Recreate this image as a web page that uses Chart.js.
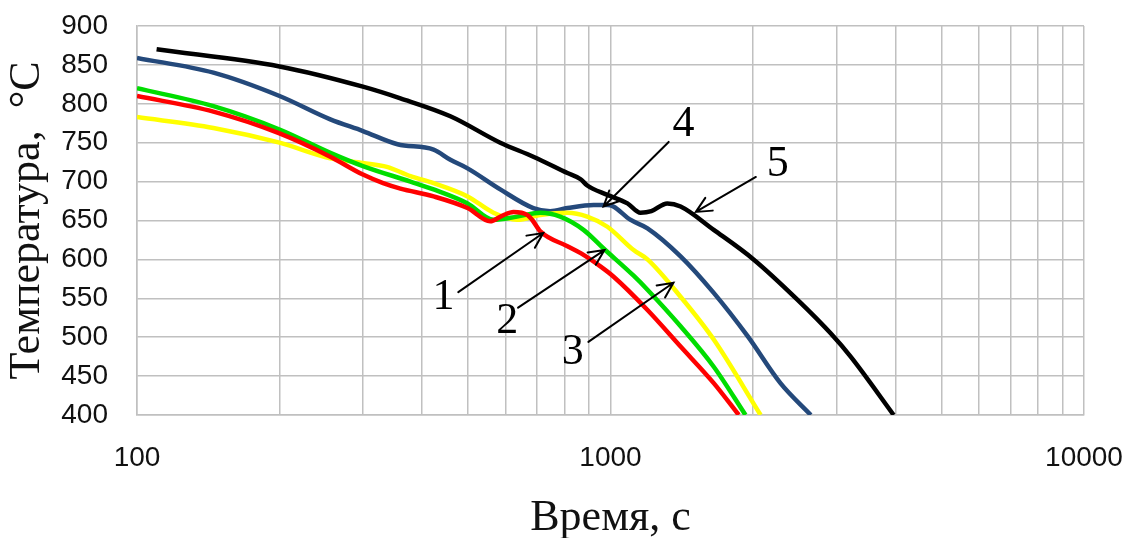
<!DOCTYPE html>
<html>
<head>
<meta charset="utf-8">
<script src="https://cdn.jsdelivr.net/npm/chart.js@4/dist/chart.umd.min.js"></script>
<style>
  html, body { margin: 0; padding: 0; background: #fff; }
</style>
</head>
<body>
<canvas id="chart_T" width="1128" height="538"></canvas>
<script>
/* ------------------
    Cooling curves (time, s / temperature, C)
-------------------*/
// 1 - red
var time1 = [100, 145, 200, 256, 300, 331, 360, 423, 499, 557, 590, 624, 668, 683, 711, 811, 865, 952, 1014, 1197, 1406, 1652, 1866];
var temp1 = [810, 790, 762, 732, 709, 698, 691, 681, 666, 649, 656, 661, 657, 651, 636, 617, 608, 591, 578, 535, 488, 441, 400];
// 2 - green
var time2 = [100, 145, 200, 256, 300, 378, 423, 499, 566, 635, 711, 783, 877, 967, 1119, 1197, 1406, 1652, 1928];
var temp2 = [820, 797, 767, 737, 720, 700, 690, 672, 651, 655, 660, 655, 638, 614, 579, 561, 514, 462, 400];
// 3 - yellow
var time3 = [100, 145, 200, 256, 300, 337, 378, 423, 499, 566, 635, 711, 811, 893, 985, 1119, 1197, 1406, 1652, 2075];
var temp3 = [783, 769, 750, 730, 724, 719, 707, 698, 681, 660, 651, 657, 660, 655, 642, 612, 600, 552, 497, 400];
// 4 - blue
var time4 = [100, 145, 200, 256, 300, 355, 423, 459, 499, 585, 687, 746, 811, 921, 985, 1014, 1101, 1197, 1406, 1652, 1950, 2285, 2649];
var temp4 = [859, 840, 810, 780, 765, 748, 741, 728, 717, 690, 666, 662, 666, 670, 670, 668, 651, 640, 604, 557, 501, 441, 400];
// 5 - black
var time5 = [110, 200, 300, 360, 459, 585, 687, 811, 865, 893, 985, 1086, 1157, 1220, 1318, 1406, 1652, 2005, 2484, 2917, 3215, 3963];
var temp5 = [870, 848, 822, 807, 784, 750, 732, 711, 703, 695, 683, 672, 660, 662, 672, 668, 638, 600, 548, 505, 475, 400];

// tick labels
var xTicks = [100, 200, 300, 400, 500, 600, 700, 800, 900, 1000, 2000, 3000, 4000, 5000, 6000, 7000, 8000, 9000, 10000];
var xLabels = [100, 1000, 10000];

// curve numbers: label position and arrow from -> to (time, temp)
var markNames = ['1', '2', '3', '4', '5'];
var markText  = [[444, 551], [605, 520], [832, 480], [1426, 773], [2256, 722]];
var markFrom  = [[477, 558], [638, 538], [898, 494], [1327, 751], [2028, 706]];
var markTo    = [[721, 634], [971, 612], [1358, 570], [967, 668], [1514, 661]];

function toPoints(xs, ys) {
    return xs.map(function (x, i) { return {x: x, y: ys[i]}; });
}

function curve(label, color, xs, ys) {
    return {
        label: label,
        data: toPoints(xs, ys),
        borderColor: color,
        borderWidth: 4.5,
        pointRadius: 0,
        fill: false,
        cubicInterpolationMode: 'monotone'
    };
}

// arrows and numbers on top of the curves
var markPlugin = {
    id: 'marks',
    afterDatasetsDraw: function (chart) {
        var ctx = chart.ctx, sx = chart.scales.x, sy = chart.scales.y;
        ctx.save();
        ctx.strokeStyle = '#000';
        ctx.fillStyle = '#000';
        ctx.lineWidth = 2;
        ctx.lineCap = 'round';
        for (var i = 0; i < markNames.length; i++) {
            var x0 = sx.getPixelForValue(markFrom[i][0]), y0 = sy.getPixelForValue(markFrom[i][1]);
            var x1 = sx.getPixelForValue(markTo[i][0]),   y1 = sy.getPixelForValue(markTo[i][1]);
            var a = Math.atan2(y1 - y0, x1 - x0), h = 17, s = 0.45;
            ctx.beginPath();
            ctx.moveTo(x0, y0);
            ctx.lineTo(x1, y1);
            ctx.moveTo(x1 - h * Math.cos(a - s), y1 - h * Math.sin(a - s));
            ctx.lineTo(x1, y1);
            ctx.lineTo(x1 - h * Math.cos(a + s), y1 - h * Math.sin(a + s));
            ctx.stroke();

            ctx.font = '44px "Liberation Serif", "Times New Roman", serif';
            ctx.textAlign = 'center';
            ctx.textBaseline = 'middle';
            ctx.fillText(markNames[i], sx.getPixelForValue(markText[i][0]), sy.getPixelForValue(markText[i][1]));
        }
        ctx.restore();
    }
};

var gridColor = '#c0c0c0';

var chart_T = new Chart(document.getElementById('chart_T'), {
    type: 'line',
    data: {
        datasets: [
            curve('1', '#ff0000', time1, temp1),
            curve('2', '#00dd00', time2, temp2),
            curve('3', '#ffff00', time3, temp3),
            curve('4', '#24497b', time4, temp4),
            curve('5', '#000000', time5, temp5)
        ]
    },
    options: {
        responsive: false,
        animation: false,
        devicePixelRatio: 1,
        layout: { padding: { top: 26, right: 44, left: 0, bottom: 0 } },
        plugins: {
            legend: { display: false },
            tooltip: { enabled: false }
        },
        scales: {
            x: {
                type: 'logarithmic',
                min: 100,
                max: 10000,
                afterBuildTicks: function (scale) {
                    scale.ticks = xTicks.map(function (v) { return {value: v}; });
                },
                afterFit: function (scale) {
                    scale.height = 123;
                    scale.paddingLeft = 0;
                    scale.paddingRight = 0;
                },
                grid: { color: gridColor, lineWidth: 1.5, drawTicks: false },
                border: { color: gridColor, width: 1.5 },
                ticks: {
                    autoSkip: false,
                    maxRotation: 0,
                    padding: 26,
                    color: '#111',
                    font: { family: '"Liberation Sans", Arial, sans-serif', size: 28 },
                    callback: function (v) { return xLabels.indexOf(v) >= 0 ? String(v) : ''; }
                },
                title: {
                    display: true,
                    text: 'Время, с',
                    color: '#111',
                    padding: 0,
                    font: { family: '"Liberation Serif", "Times New Roman", serif', size: 44, lineHeight: 0.9 }
                }
            },
            y: {
                min: 400,
                max: 900,
                afterFit: function (scale) {
                    scale.width = 137;
                    scale.paddingTop = 0;
                    scale.paddingBottom = 0;
                },
                grid: { color: gridColor, lineWidth: 1.5, drawTicks: false },
                border: { color: gridColor, width: 1.5 },
                ticks: {
                    stepSize: 50,
                    padding: 29,
                    color: '#111',
                    font: { family: '"Liberation Sans", Arial, sans-serif', size: 28 }
                },
                title: {
                    display: true,
                    text: 'Температура,  °C',
                    color: '#111',
                    padding: { top: 8, bottom: 0 },
                    font: { family: '"Liberation Serif", "Times New Roman", serif', size: 44, lineHeight: 0.9 }
                }
            }
        }
    },
    plugins: [markPlugin]
});
</script>
</body>
</html>
